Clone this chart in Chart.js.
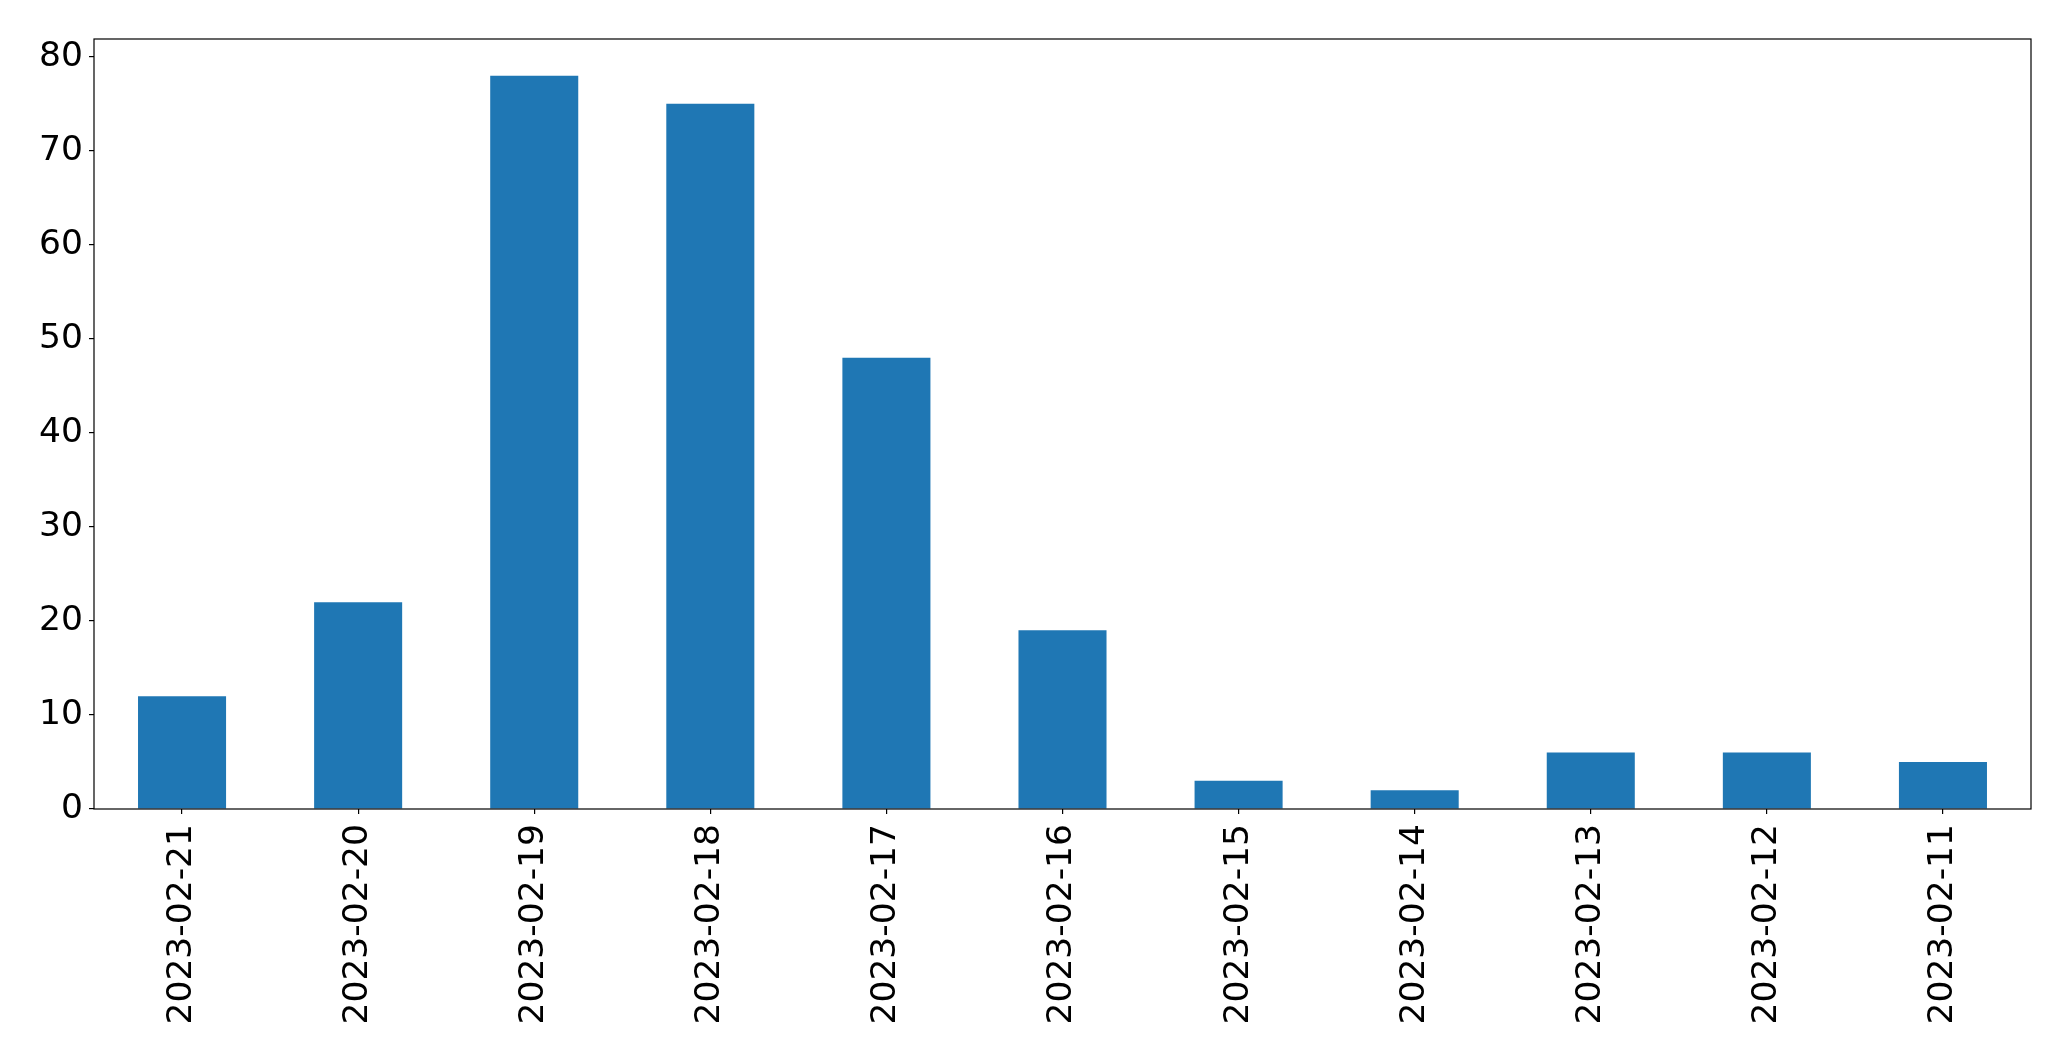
<!DOCTYPE html>
<html>
<head>
<meta charset="utf-8">
<script src="https://cdn.jsdelivr.net/npm/chart.js@4.4.0/dist/chart.umd.min.js"></script>
<style>
    html, body { margin: 0; padding: 0; background: #ffffff; }
    #wrap { width: 2071px; height: 1061px; position: relative; }
</style>
</head>
<body>
<div id="wrap"><canvas id="bars"></canvas></div>
<script>
const dates = [
    "2023-02-21", "2023-02-20", "2023-02-19", "2023-02-18", "2023-02-17", "2023-02-16",
    "2023-02-15", "2023-02-14", "2023-02-13", "2023-02-12", "2023-02-11",
];
const counts = [12, 22, 78, 75, 48, 19, 3, 2, 6, 6, 5];
const yTicks = [0, 10, 20, 30, 40, 50, 60, 70, 80];

const FONT = { family: "'DejaVu Sans', sans-serif", size: 34.5 };

// matplotlib-style box around the plot area
const frame = {
    id: "frame",
    afterDraw(chart) {
        const { ctx, chartArea: a } = chart;
        ctx.save();
        ctx.strokeStyle = "#000000";
        ctx.lineWidth = 1.2;
        ctx.strokeRect(a.left, a.top, a.right - a.left, a.bottom - a.top);
        ctx.restore();
    },
};

new Chart(document.getElementById("bars"), {
    type: "bar",
    data: {
        labels: dates,
        datasets: [{
            data: counts,
            backgroundColor: "#1f77b4",
            borderWidth: 0,
            barPercentage: 0.5,
            categoryPercentage: 1.0,
        }],
    },
    options: {
        responsive: true,
        maintainAspectRatio: false,
        animation: false,
        layout: { padding: { top: 39, right: 40, left: 0, bottom: 0 } },
        plugins: { legend: { display: false }, tooltip: { enabled: false } },
        scales: {
            x: {
                offset: true,
                grid: { offset: false, drawOnChartArea: false, drawTicks: true, tickLength: 5, color: "#000000", lineWidth: 1.2 },
                border: { display: false },
                ticks: {
                    color: "#000000",
                    font: FONT,
                    minRotation: 90, maxRotation: 90,
                    autoSkip: false,
                    padding: 10,
                },
                afterFit: (s) => { s.height = 252; },
            },
            y: {
                min: 0,
                max: 81.9,
                grid: { drawOnChartArea: false, drawTicks: true, tickLength: 5, color: "#000000", lineWidth: 1.2 },
                border: { display: false },
                ticks: { color: "#000000", font: FONT, stepSize: 10, padding: 6 },
                afterBuildTicks: (s) => { s.ticks = yTicks.map((v) => ({ value: v })); },
                afterFit: (s) => { s.width = 94; },
            },
        },
    },
    plugins: [frame],
});
</script>
</body>
</html>
